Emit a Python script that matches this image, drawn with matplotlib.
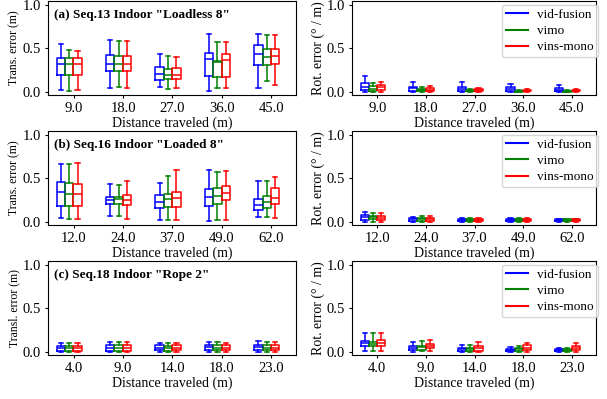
import matplotlib
matplotlib.use('Agg')
import matplotlib.pyplot as plt
from matplotlib.lines import Line2D

plt.rcParams['font.family'] = ['Liberation Serif', 'DejaVu Serif']

methods = ['vid-fusion', 'vimo', 'vins-mono']
colors = ['blue', 'green', 'red']

# tick labels (distance traveled) for each sequence
dist_seq13 = ['9.0', '18.0', '27.0', '36.0', '45.0']
dist_seq16 = ['12.0', '24.0', '37.0', '49.0', '62.0']
dist_seq18 = ['4.0', '9.0', '14.0', '18.0', '23.0']

# box stats per group: [whislo, q1, median, q3, whishi]
seq13_trans_vid = [[0.019, 0.20, 0.326, 0.39, 0.553], [0.042, 0.246, 0.326, 0.42, 0.595],
                   [0.053, 0.14, 0.208, 0.292, 0.44], [0.015, 0.186, 0.379, 0.451, 0.667],
                   [0.045, 0.307, 0.436, 0.534, 0.663]]
seq13_trans_vimo = [[0.011, 0.20, 0.326, 0.39, 0.477], [0.053, 0.235, 0.326, 0.417, 0.587],
                    [0.038, 0.148, 0.20, 0.261, 0.413], [0.045, 0.17, 0.348, 0.356, 0.568],
                    [0.125, 0.314, 0.398, 0.489, 0.655]]
seq13_trans_vins = [[0.026, 0.20, 0.326, 0.387, 0.466], [0.042, 0.235, 0.326, 0.41, 0.587],
                    [0.042, 0.148, 0.20, 0.277, 0.398], [0.045, 0.174, 0.364, 0.432, 0.568],
                    [0.083, 0.318, 0.413, 0.492, 0.655]]

seq13_rot_vid = [[0.004, 0.027, 0.058, 0.097, 0.178], [0.004, 0.016, 0.047, 0.062, 0.116],
                 [0.002, 0.016, 0.039, 0.062, 0.109], [0.002, 0.012, 0.035, 0.054, 0.093],
                 [0.002, 0.008, 0.027, 0.043, 0.078]]
seq13_rot_vimo = [[0.0, 0.016, 0.039, 0.07, 0.105], [0.0, 0.012, 0.027, 0.039, 0.062],
                  [0.0, 0.008, 0.016, 0.023, 0.035], [0.0, 0.004, 0.008, 0.016, 0.023],
                  [0.0, 0.004, 0.008, 0.012, 0.019]]
seq13_rot_vins = [[0.0, 0.019, 0.054, 0.085, 0.116], [0.0, 0.012, 0.027, 0.043, 0.07],
                  [0.0, 0.008, 0.019, 0.031, 0.047], [0.0, 0.008, 0.016, 0.027, 0.039],
                  [0.0, 0.008, 0.016, 0.023, 0.031]]

seq16_trans_vid = [[0.039, 0.184, 0.338, 0.453, 0.66], [0.062, 0.20, 0.249, 0.287, 0.43],
                   [0.023, 0.157, 0.226, 0.303, 0.441], [0.012, 0.18, 0.284, 0.376, 0.598],
                   [0.054, 0.134, 0.196, 0.265, 0.468]]
seq16_trans_vimo = [[0.031, 0.177, 0.322, 0.441, 0.66], [0.066, 0.20, 0.257, 0.29, 0.426],
                    [0.023, 0.169, 0.261, 0.315, 0.521], [0.023, 0.207, 0.299, 0.383, 0.567],
                    [0.054, 0.153, 0.222, 0.295, 0.468]]
seq16_trans_vins = [[0.027, 0.177, 0.315, 0.437, 0.671], [0.027, 0.192, 0.245, 0.303, 0.464],
                    [0.019, 0.169, 0.269, 0.345, 0.594], [0.023, 0.253, 0.326, 0.406, 0.579],
                    [0.039, 0.20, 0.276, 0.383, 0.514]]

seq16_rot_vid = [[0.0, 0.023, 0.054, 0.078, 0.109], [0.0, 0.008, 0.027, 0.047, 0.058],
                 [0.0, 0.008, 0.019, 0.031, 0.043], [0.0, 0.008, 0.019, 0.031, 0.043],
                 [0.002, 0.008, 0.019, 0.027, 0.035]]
seq16_rot_vimo = [[0.0, 0.027, 0.054, 0.07, 0.097], [0.0, 0.008, 0.027, 0.047, 0.062],
                  [0.0, 0.008, 0.019, 0.031, 0.043], [0.0, 0.008, 0.019, 0.031, 0.043],
                  [0.002, 0.008, 0.019, 0.027, 0.035]]
seq16_rot_vins = [[0.0, 0.023, 0.047, 0.07, 0.097], [0.0, 0.008, 0.027, 0.047, 0.062],
                  [0.0, 0.008, 0.019, 0.031, 0.043], [0.0, 0.008, 0.019, 0.031, 0.047],
                  [0.002, 0.008, 0.019, 0.027, 0.035]]

seq18_trans_vid = [[0.0, 0.012, 0.039, 0.07, 0.105], [0.0, 0.012, 0.05, 0.078, 0.112],
                   [0.0, 0.016, 0.047, 0.074, 0.10], [0.0, 0.019, 0.054, 0.078, 0.112],
                   [0.0, 0.019, 0.054, 0.081, 0.124]]
seq18_trans_vimo = [[0.0, 0.012, 0.043, 0.066, 0.105], [0.0, 0.012, 0.047, 0.074, 0.108],
                    [0.0, 0.012, 0.043, 0.066, 0.10], [0.0, 0.019, 0.05, 0.081, 0.116],
                    [0.0, 0.016, 0.05, 0.078, 0.112]]
seq18_trans_vins = [[0.0, 0.012, 0.043, 0.066, 0.10], [0.0, 0.012, 0.05, 0.074, 0.108],
                    [0.0, 0.016, 0.05, 0.074, 0.105], [0.0, 0.016, 0.05, 0.074, 0.105],
                    [0.0, 0.016, 0.05, 0.074, 0.116]]

seq18_rot_vid = [[0.012, 0.069, 0.10, 0.127, 0.215], [0.004, 0.027, 0.05, 0.073, 0.112],
                 [0.0, 0.012, 0.031, 0.05, 0.081], [0.0, 0.008, 0.023, 0.038, 0.054],
                 [0.0, 0.008, 0.023, 0.038, 0.05]]
seq18_rot_vimo = [[0.012, 0.069, 0.096, 0.119, 0.215], [0.008, 0.027, 0.054, 0.073, 0.123],
                  [0.0, 0.012, 0.031, 0.05, 0.077], [0.0, 0.012, 0.031, 0.05, 0.069],
                  [0.0, 0.008, 0.023, 0.035, 0.046]]
seq18_rot_vins = [[0.012, 0.069, 0.10, 0.135, 0.219], [0.012, 0.042, 0.066, 0.085, 0.131],
                  [0.0, 0.012, 0.05, 0.073, 0.108], [0.0, 0.019, 0.05, 0.077, 0.104],
                  [0.0, 0.019, 0.05, 0.073, 0.10]]

titles = ['(a) Seq.13 Indoor "Loadless 8"', '(b) Seq.16 Indoor "Loaded 8"', '(c) Seq.18 Indoor "Rope 2"']
trans_labels = ['Trans. error (m)', 'Trans. error (m)', 'Transl. error (m)']
rot_label = 'Rot. error (\u00b0 / m)'

trans_data = [[seq13_trans_vid, seq13_trans_vimo, seq13_trans_vins],
              [seq16_trans_vid, seq16_trans_vimo, seq16_trans_vins],
              [seq18_trans_vid, seq18_trans_vimo, seq18_trans_vins]]
rot_data = [[seq13_rot_vid, seq13_rot_vimo, seq13_rot_vins],
            [seq16_rot_vid, seq16_rot_vimo, seq16_rot_vins],
            [seq18_rot_vid, seq18_rot_vimo, seq18_rot_vins]]
dists = [dist_seq13, dist_seq16, dist_seq18]

offsets = [-0.26, -0.09, 0.08]
box_w = 0.17


def draw_boxes(ax, series, ticklabels):
    for k, (vals, c) in enumerate(zip(series, colors)):
        stats = []
        for v in vals:
            stats.append({'whislo': v[0], 'q1': v[1], 'med': v[2], 'q3': v[3], 'whishi': v[4], 'fliers': []})
        pos = [i + 1 + offsets[k] for i in range(len(vals))]
        lp = dict(color=c, linewidth=1.1)
        ax.bxp(stats, positions=pos, widths=box_w, showfliers=False, manage_ticks=False,
               boxprops=lp, medianprops=lp, whiskerprops=lp, capprops=lp)
    ax.set_xticks(range(1, len(ticklabels) + 1))
    ax.set_xticklabels(ticklabels)
    ax.set_xlim(0.48, 5.5)
    ax.set_ylim(-0.035, 1.045)
    ax.set_yticks([0.0, 0.5, 1.0])
    ax.tick_params(labelsize=10.5, length=2.5, pad=2.5)
    ax.set_xlabel('Distance traveled (m)', fontsize=10, labelpad=1)


fig = plt.figure(figsize=(6.07, 3.99), dpi=100)
row_tops = [0.9975, 0.672, 0.346]
h = 0.2355
for r in range(3):
    axl = fig.add_axes([0.079, row_tops[r] - h, 0.4086, h])
    draw_boxes(axl, trans_data[r], dists[r])
    axl.set_ylabel(trans_labels[r], fontsize=8.5, labelpad=1.5)
    axl.text(0.025, 0.91, titles[r], transform=axl.transAxes, fontsize=9.5,
             fontweight='bold', va='top', ha='left')

    axr = fig.add_axes([0.58, row_tops[r] - h, 0.402, h])
    draw_boxes(axr, rot_data[r], dists[r])
    axr.set_ylabel(rot_label, fontsize=10, labelpad=1.5)
    handles = [Line2D([0], [0], color=c, linewidth=1.5) for c in colors]
    axr.legend(handles, methods, loc='upper right', bbox_to_anchor=(1.008, 0.96),
               borderaxespad=0, fontsize=9.5, handlelength=1.7, handletextpad=0.7,
               borderpad=0.3, labelspacing=0.3)

fig.savefig('out.png', dpi=100)
